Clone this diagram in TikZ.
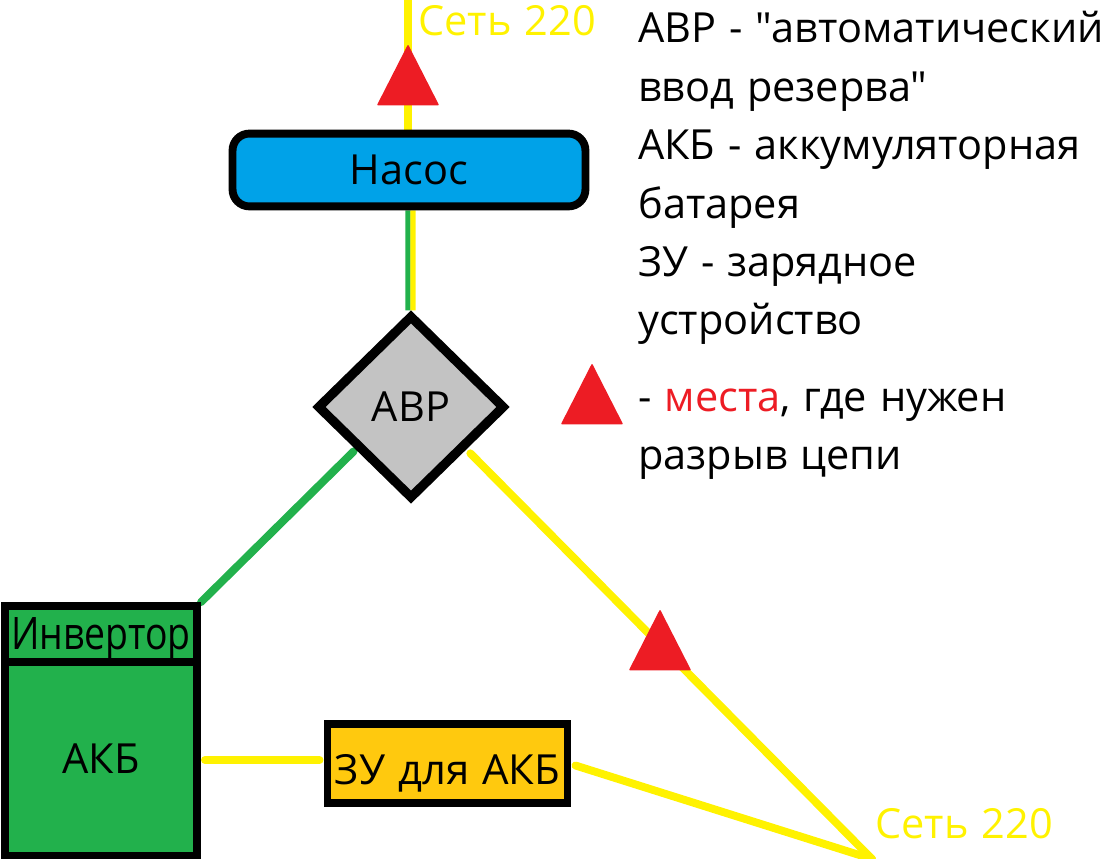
\documentclass[tikz,border=0pt]{standalone}
\usepackage{fontspec}
\setmainfont{Open Sans}[Ligatures=TeXOff, WordSpace=1.2]
\usetikzlibrary{arrows.meta, positioning, shapes.geometric, calc, backgrounds}
\definecolor{cblue}{HTML}{00A2E8}
\definecolor{cgreen}{HTML}{22B14C}
\definecolor{cyellow}{HTML}{FFF200}
\definecolor{cred}{HTML}{ED1C24}
\definecolor{cgrey}{HTML}{C3C3C3}
\definecolor{cgold}{HTML}{FFC90E}
\tikzset{
  every picture/.style={font=\fontsize{29.5}{41.6}\selectfont},
  box/.style={draw=black, fill=#1, line width=5.6pt, inner sep=0pt, align=center},
  box/.default=cgreen,
  wire/.style={draw=#1, line width=5.6pt, line cap=round},
  thinwire/.style={draw=#1, line width=3.6pt},
  breach/.style={isosceles triangle, isosceles triangle stretches, shape border rotate=90, fill=cred, draw=cred, line width=1pt, line join=round, inner sep=0pt, minimum width=1.5cm, minimum height=1.47cm, anchor=apex},
  mains/.style={text=cyellow, anchor=base west, inner sep=0pt},
  note/.style={anchor=base west, inner sep=0pt, align=left},
}
\begin{document}
\begin{tikzpicture}[x=0.025cm, y=-0.025cm]
  \useasboundingbox (0,0) rectangle (1106,859);
  \node[box=cblue, rounded corners=12pt, minimum width=8.82cm, minimum height=1.82cm] (pump) at (409,170) {Насос};
  \node[box=cgrey, diamond, aspect=1, line width=6.6pt, minimum width=4.7cm, minimum height=4.6cm] (avr) at (411,407) {АВР};
  \node[box, minimum width=4.8cm, minimum height=1.42cm, text height=24pt, text depth=2pt] (inverter) at (101,634.5) {\scalebox{.9}[1.08]{Инвертор}};
  \node[box, minimum width=4.8cm, minimum height=4.85cm] (akb) at (101,759) {АКБ};
  \node[box=cgold, minimum width=6cm, minimum height=1.98cm, text height=32pt, text depth=2pt] (charger) at (447.5,763.5) {\scalebox{1.01}[1]{ЗУ для АКБ}};
  \coordinate (grid1) at (408,0);
  \coordinate (grid2) at (872,859);
  \begin{scope}[on background layer]
    \draw[wire=cyellow] (grid1) -- ([xshift=-0.025cm]pump.north);
    \draw[thinwire=cgreen] ([xshift=-0.025cm]pump.south) -- ([xshift=-0.075cm]avr.north);
    \draw[thinwire=cyellow] ([xshift=0.1cm]pump.south) -- ([xshift=0.05cm]avr.north);
    \draw[wire=cgreen] ([shift={(-8,-4)}]avr.south west) -- (inverter.north east);
    \draw[wire=cyellow] ([shift={(10,-2)}]avr.south east) -- (grid2);
    \draw[wire=cyellow] ([shift={(4,1)}]akb.east) -- ([shift={(-4,-3.5)}]charger.west);
    \draw[wire=cyellow] ([shift={(4,2)}]charger.east) -- (grid2);
  \end{scope}
  \node[breach] (gap1) at (408,44) {};
  \node[breach] (gap2) at (660,609) {};
  \node[breach] (gap3) at (592,363) {};
  \node[mains] (label1) at (418,36) {Сеть 220};
  \node[mains] (label2) at (875,838) {Сеть 220};
  \node[note] (legend) at (638,335) {АВР - "автоматический\\ввод резерва"\\АКБ - аккумуляторная\\батарея\\ЗУ - зарядное\\устройство};
  \node[note] (legend2) at (638,470) {- \textcolor{cred}{места}, где нужен\\разрыв цепи};
\end{tikzpicture}
\end{document}
